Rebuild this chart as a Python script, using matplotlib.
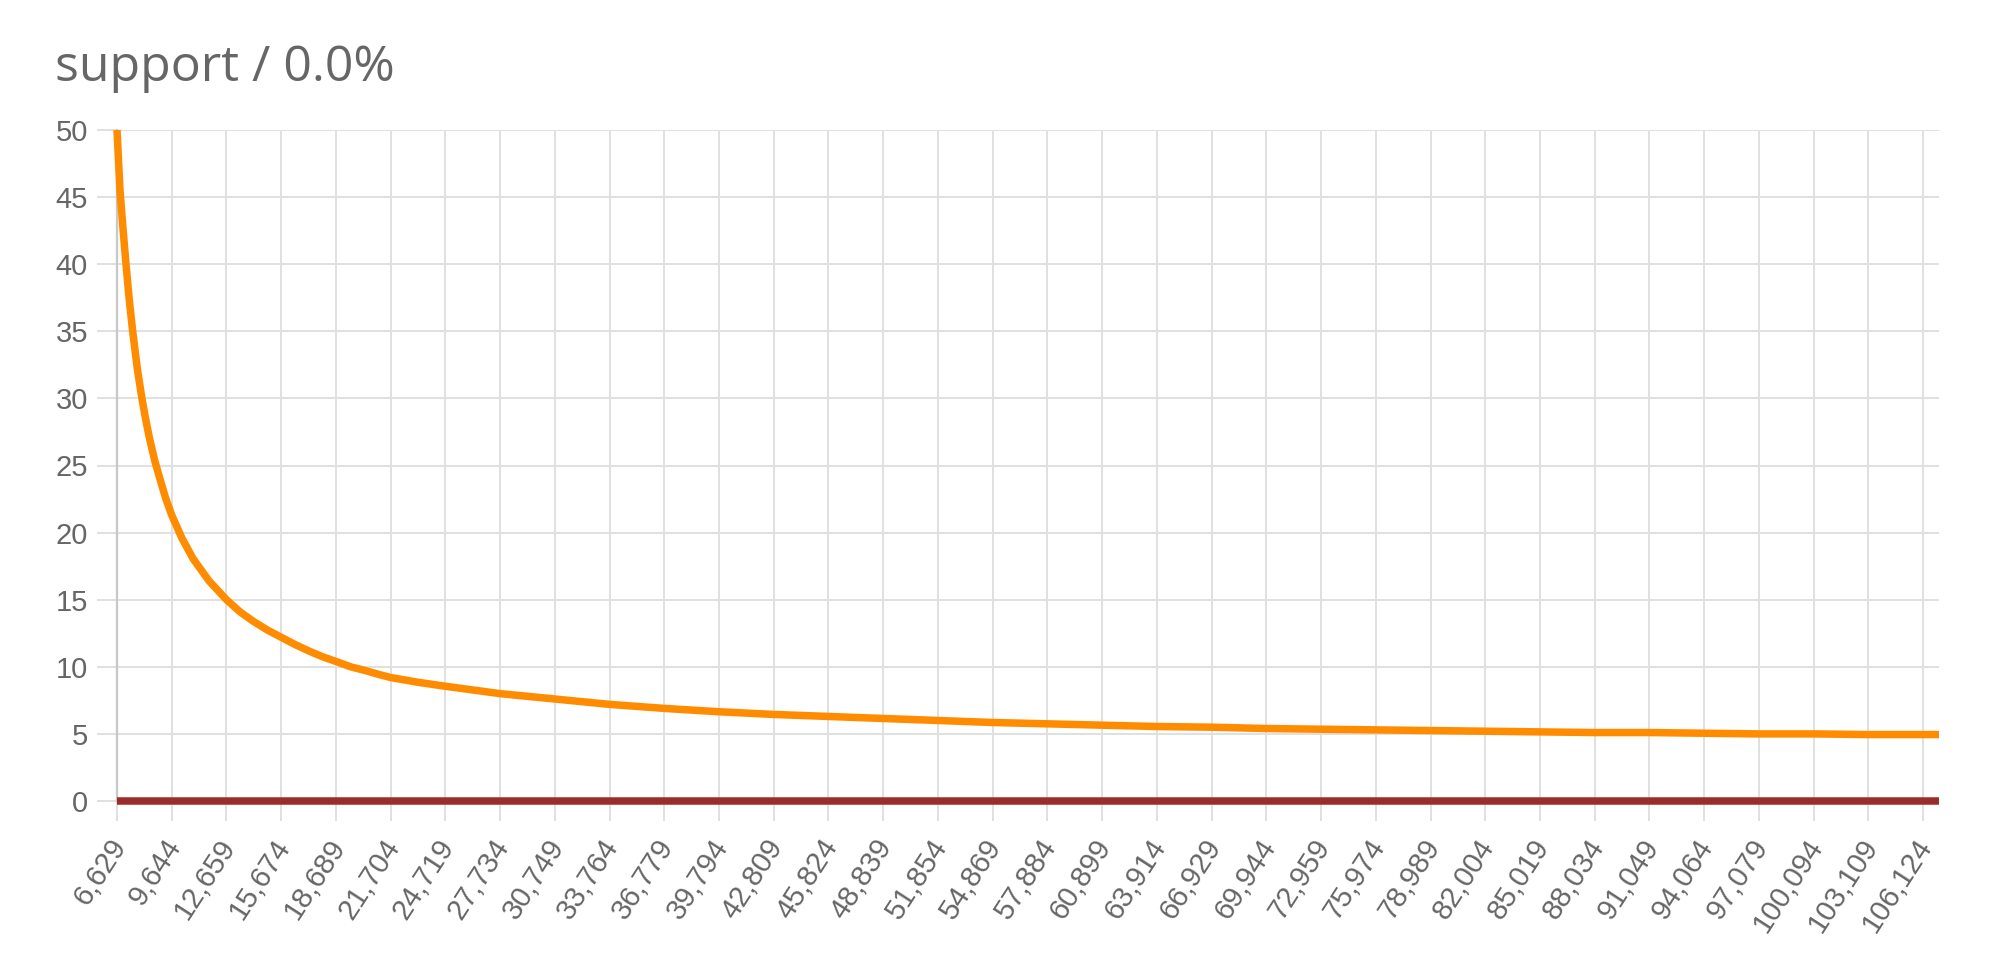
import matplotlib
matplotlib.use("Agg")
import matplotlib.pyplot as plt
from matplotlib.transforms import ScaledTranslation

# ---- data ----
x_support = [6629, 6794, 6950, 7125, 7300, 7493, 7740, 7989, 8200, 8407,
             8700, 8995, 9300, 9644, 10200, 10821, 11700, 12659, 13400, 14127,
             14900, 15674, 16450, 17247, 17950, 18689, 19500, 20367, 21000,
             21704, 23200, 24719, 27734, 30749, 33764, 36779,
             39794, 42809, 45824, 48839, 51854, 54869, 57884, 60899, 63914,
             66929, 69944, 72959, 75974, 78989, 82004, 85019, 88034, 91049,
             94064, 97079, 100094, 103109, 106124, 107000]
y_support = [50.0, 45.5, 42.8, 40.0, 37.4, 35.0, 32.3, 30.1, 28.5, 27.1,
             25.4, 24.0, 22.6, 21.3, 19.6, 18.05, 16.4, 15.0, 14.1, 13.4,
             12.75, 12.2, 11.65, 11.15, 10.75, 10.4, 10.0, 9.7, 9.45,
             9.2, 8.85, 8.55, 8.0, 7.6, 7.2, 6.9,
             6.65, 6.45, 6.3, 6.15, 6.0, 5.85, 5.75, 5.65, 5.55,
             5.5, 5.4, 5.35, 5.3, 5.25, 5.2, 5.15, 5.1, 5.1,
             5.05, 5.0, 5.0, 4.95, 4.95, 4.95]
y_zero = [0.0] * len(x_support)

x_tick_values = [6629 + 3015 * i for i in range(34)]
x_tick_labels = [f"{v:,}" for v in x_tick_values]
y_tick_values = [0, 5, 10, 15, 20, 25, 30, 35, 40, 45, 50]

title_text = "support / 0.0%"

# ---- figure ----
W, H, DPI = 2000, 973, 100
fig = plt.figure(figsize=(W / DPI, H / DPI), dpi=DPI)
left, right, top, bottom = 117, 1939, 130, 801
ax = fig.add_axes([left / W, 1 - bottom / H, (right - left) / W, (bottom - top) / H])

grid_col = "#e0e0e0"
text_col = "#666666"

ax.plot(x_support, y_zero, color="#9b2c2c", lw=5.4, solid_capstyle="butt",
        zorder=3, clip_on=False)
ax.plot(x_support, y_support, color="#ff8c00", lw=5.4, solid_capstyle="butt",
        solid_joinstyle="round", zorder=4, clip_on=False)

ax.set_xlim(6629, 107000)
ax.set_ylim(0, 50)
ax.set_xticks(x_tick_values)
ax.set_xticklabels(x_tick_labels, rotation=57, ha="right", va="baseline",
                   rotation_mode="anchor")
ax.set_yticks(y_tick_values)
ax.set_yticklabels([str(v) for v in y_tick_values])

ax.grid(True, color=grid_col, lw=1.4)
ax.set_axisbelow(True)
for s in ["top", "right", "bottom"]:
    ax.spines[s].set_visible(False)
ax.spines["left"].set_color("#c8c8c8")
ax.spines["left"].set_linewidth(1.6)

ax.tick_params(axis="both", colors=grid_col, length=14.4, width=1.4,
               labelcolor=text_col, labelsize=21)
ax.tick_params(axis="y", pad=6.5)
ax.tick_params(axis="x", pad=18)
shift = ScaledTranslation(7 / 72, 0, fig.dpi_scale_trans)
for lab in ax.get_xticklabels():
    lab.set_family(["Liberation Sans", "DejaVu Sans"])
    lab.set_transform(lab.get_transform() + shift)
for lab in ax.get_yticklabels():
    lab.set_family(["Liberation Sans", "DejaVu Sans"])

fig.text(55 / W, 1 - 81 / H, title_text, fontsize=36, color=text_col,
         family=["Open Sans", "DejaVu Sans"], ha="left", va="baseline")

fig.savefig("out.png", dpi=DPI, facecolor="white")
